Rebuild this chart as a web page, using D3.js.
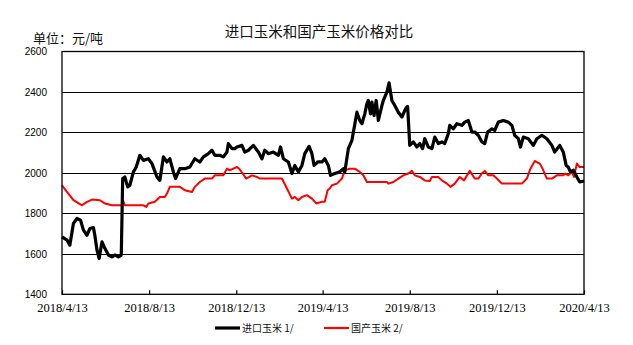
<!DOCTYPE html>
<html>
<head>
<meta charset="utf-8">
<script src="https://cdn.jsdelivr.net/npm/d3@7"></script>
<style>
  html, body { margin: 0; padding: 0; background: #fff; }
  svg { display: block; }
</style>
</head>
<body>
<svg id="chart" width="633" height="345"></svg>
<script>
// Price series: day offset from START and price in 元/吨
const START = "2018-04-13";

const importDays = [0, 7, 11, 16, 21, 26, 30, 35, 39, 44, 46, 49, 52, 56, 60, 65, 70, 74, 79, 83, 85, 88, 92, 95, 100, 104, 109, 114, 121, 126, 133, 137, 142, 147, 151, 156, 159, 165, 172, 179, 186, 193, 198, 205, 210, 214, 221, 226, 231, 233, 238, 242, 245, 252, 256, 261, 268, 275, 280, 284, 289, 296, 303, 306, 310, 317, 322, 326, 331, 336, 340, 346, 350, 353, 358, 364, 368, 373, 376, 382, 389, 394, 396, 401, 406, 409, 413, 417, 420, 424, 427, 429, 432, 434, 437, 440, 443, 448, 450, 455, 458, 462, 466, 471, 476, 481, 484, 487, 492, 497, 501, 505, 508, 513, 518, 522, 527, 532, 536, 541, 543, 548, 553, 560, 564, 569, 574, 578, 583, 588, 592, 596, 602, 606, 611, 618, 625, 630, 634, 639, 642, 646, 653, 660, 665, 672, 679, 686, 690, 697, 702, 706, 709, 712, 716, 721, 725, 731];
const importPrice = [1684, 1668, 1643, 1750, 1775, 1766, 1717, 1692, 1725, 1730, 1692, 1618, 1577, 1659, 1627, 1594, 1585, 1594, 1585, 1594, 1972, 1980, 1931, 1939, 2005, 2029, 2087, 2062, 2070, 2046, 1980, 1963, 2079, 2054, 2070, 2005, 1972, 2021, 2021, 2029, 2070, 2054, 2079, 2095, 2112, 2087, 2087, 2079, 2103, 2145, 2120, 2120, 2128, 2136, 2103, 2112, 2136, 2103, 2070, 2112, 2095, 2103, 2087, 2128, 2070, 2054, 1997, 2037, 2005, 2037, 2095, 2131, 2095, 2037, 2054, 2054, 2070, 2037, 1988, 1997, 2005, 2021, 2005, 2120, 2161, 2220, 2300, 2259, 2243, 2292, 2342, 2358, 2292, 2350, 2284, 2358, 2259, 2333, 2358, 2399, 2445, 2358, 2333, 2300, 2276, 2317, 2329, 2136, 2153, 2128, 2145, 2120, 2169, 2128, 2120, 2177, 2145, 2153, 2145, 2194, 2235, 2218, 2243, 2235, 2251, 2259, 2202, 2202, 2186, 2153, 2145, 2202, 2218, 2210, 2251, 2259, 2251, 2235, 2186, 2169, 2128, 2177, 2169, 2136, 2169, 2186, 2169, 2136, 2103, 2136, 2103, 2037, 2029, 2005, 2013, 1980, 1955, 1960];

const domesticDays = [0, 4, 7, 16, 28, 35, 42, 53, 60, 70, 84, 86, 88, 114, 118, 121, 130, 137, 144, 147, 151, 165, 172, 182, 186, 193, 200, 210, 214, 226, 231, 235, 240, 245, 248, 253, 258, 266, 273, 277, 308, 315, 322, 326, 331, 336, 343, 350, 356, 364, 368, 372, 375, 378, 385, 392, 396, 403, 410, 417, 422, 427, 455, 457, 464, 471, 478, 485, 490, 494, 501, 508, 515, 518, 527, 532, 539, 544, 550, 557, 563, 571, 578, 583, 588, 592, 597, 604, 609, 616, 644, 651, 656, 662, 669, 673, 679, 686, 693, 702, 705, 709, 714, 717, 721, 725, 731];
const domesticPrice = [1939, 1920, 1906, 1865, 1840, 1857, 1868, 1865, 1849, 1840, 1840, 1860, 1840, 1840, 1832, 1849, 1857, 1881, 1881, 1898, 1931, 1931, 1914, 1906, 1931, 1955, 1972, 1972, 1988, 1988, 2021, 2013, 2021, 2029, 2021, 1997, 1972, 1988, 1980, 1972, 1972, 1923, 1873, 1881, 1865, 1881, 1890, 1873, 1849, 1857, 1857, 1914, 1923, 1939, 1947, 1972, 2013, 2021, 2021, 2005, 1988, 1955, 1955, 1947, 1955, 1972, 1988, 1997, 2010, 1988, 1980, 1963, 1960, 1980, 1980, 1963, 1947, 1931, 1947, 1980, 1963, 2010, 1972, 1972, 1997, 2010, 1988, 1988, 1972, 1947, 1947, 1972, 2021, 2059, 2046, 2021, 1972, 1972, 1988, 1988, 1997, 1988, 2005, 1980, 2046, 2029, 2029];

const tickDates = ["2018-04-13", "2018-08-13", "2018-12-13", "2019-04-13", "2019-08-13", "2019-12-13", "2020-04-13"];
const tickLabels = ["2018/4/13", "2018/8/13", "2018/12/13", "2019/4/13", "2019/8/13", "2019/12/13", "2020/4/13"];
const yTicks = [1400, 1600, 1800, 2000, 2200, 2400, 2600];

const seriesNames = ["进口玉米 1/", "国产玉米 2/"];
const titleText = "进口玉米和国产玉米价格对比";
const unitText = "单位：元/吨";

const parse = d3.utcParse("%Y-%m-%d");
const start = parse(START);
const toDate = d => d3.utcDay.offset(start, d);

const svg = d3.select("#chart");
const L = 62, R = 584, T = 51.5, B = 294.3;

const x = d3.scaleUtc()
  .domain([parse(tickDates[0]), parse(tickDates[tickDates.length - 1])])
  .range([L, R]);
const y = d3.scaleLinear().domain([1400, 2600]).range([B, T]);

// Title and unit
svg.append("text")
  .attr("x", 319).attr("y", 37)
  .attr("text-anchor", "middle")
  .attr("font-family", "'Noto Sans CJK SC', sans-serif")
  .attr("font-size", 14.5)
  .attr("fill", "#111")
  .text(titleText);

svg.append("text")
  .attr("x", 33).attr("y", 43)
  .attr("font-family", "'Noto Sans CJK SC', sans-serif")
  .attr("font-size", 13)
  .attr("fill", "#111")
  .text(unitText);

// Horizontal gridlines
svg.append("g")
  .selectAll("line")
  .data(yTicks.slice(1, -1))
  .join("line")
  .attr("x1", L).attr("x2", R)
  .attr("y1", d => Math.round(y(d)) + 0.5)
  .attr("y2", d => Math.round(y(d)) + 0.5)
  .attr("stroke", "#000")
  .attr("stroke-width", 1.2);

// Y axis labels
svg.append("g")
  .selectAll("text")
  .data(yTicks)
  .join("text")
  .attr("x", 47)
  .attr("y", d => y(d) + 3.8)
  .attr("text-anchor", "end")
  .attr("font-family", "'Liberation Sans', Arial, sans-serif")
  .attr("font-size", 10)
  .attr("fill", "#000")
  .text(d => d);

// X axis with inward ticks
const xAxis = d3.axisBottom(x)
  .tickValues(tickDates.map(parse))
  .tickSizeInner(-4)
  .tickSizeOuter(0)
  .tickPadding(9)
  .tickFormat((d, i) => tickLabels[i]);

const gx = svg.append("g")
  .attr("transform", `translate(0,${B})`)
  .call(xAxis);
gx.select(".domain").remove();
gx.selectAll(".tick line").attr("stroke", "#000").attr("stroke-width", 1.2);
gx.selectAll(".tick text")
  .attr("font-family", "'Liberation Serif', 'Times New Roman', serif")
  .attr("font-size", 12.5)
  .attr("fill", "#000");

// Series lines
const line = d3.line()
  .x(d => x(toDate(d[0])))
  .y(d => y(d[1]));

svg.append("path")
  .datum(domesticDays.map((d, i) => [d, domesticPrice[i]]))
  .attr("fill", "none")
  .attr("stroke", "#ff0000")
  .attr("stroke-width", 2)
  .attr("stroke-linejoin", "round")
  .attr("d", line);

svg.append("path")
  .datum(importDays.map((d, i) => [d, importPrice[i]]))
  .attr("fill", "none")
  .attr("stroke", "#000")
  .attr("stroke-width", 3.2)
  .attr("stroke-linejoin", "round")
  .attr("d", line);

// Plot frame
svg.append("rect")
  .attr("x", L).attr("y", T)
  .attr("width", R - L).attr("height", B - T)
  .attr("fill", "none")
  .attr("stroke", "#000")
  .attr("stroke-width", 1.3);

// Legend
const legend = [
  { name: seriesNames[0], color: "#000", w: 3.2, x0: 215 },
  { name: seriesNames[1], color: "#ff0000", w: 2.2, x0: 324 }
];
const lg = svg.append("g");
legend.forEach(s => {
  lg.append("line")
    .attr("x1", s.x0).attr("x2", s.x0 + 25)
    .attr("y1", 328).attr("y2", 328)
    .attr("stroke", s.color)
    .attr("stroke-width", s.w);
  lg.append("text")
    .attr("x", s.x0 + 27).attr("y", 332)
    .attr("font-family", "'Noto Sans CJK SC', sans-serif")
    .attr("font-size", 10)
    .attr("fill", "#111")
    .text(s.name);
});
</script>
</body>
</html>
